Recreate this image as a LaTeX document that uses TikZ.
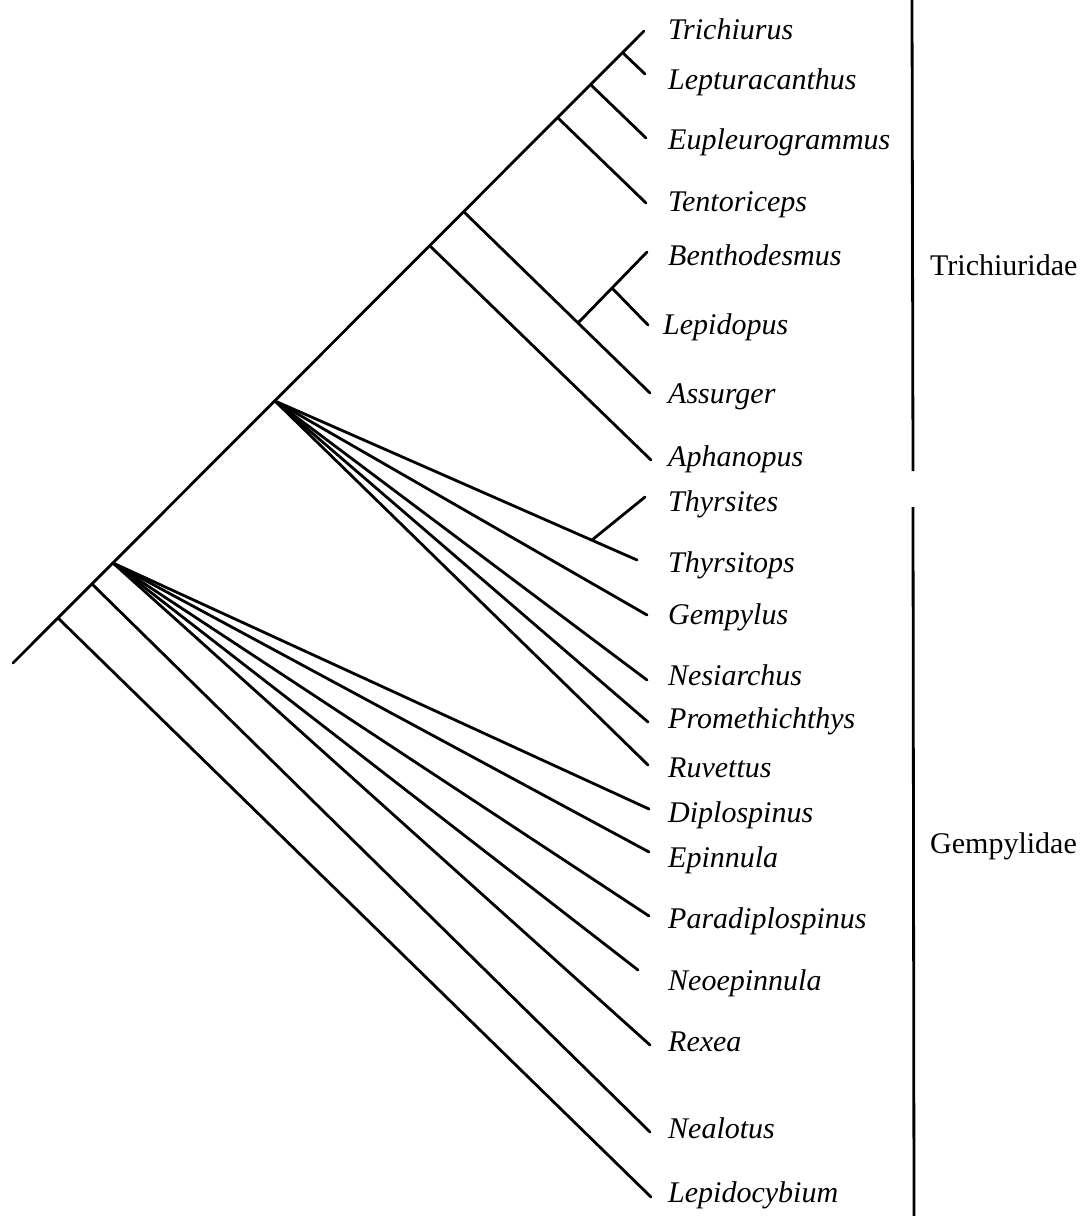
\documentclass[tikz,border=0pt]{standalone}
\usepackage{fontspec}
\setmainfont{Liberation Serif}
\begin{document}
\begin{tikzpicture}[x=1pt,y=-1pt,
  br/.style={line width=2.8pt,line cap=round},
  bar/.style={line width=2.8pt},
  lab/.style={anchor=base west,inner sep=0pt,font=\fontsize{30}{36}\selectfont\itshape},
  fam/.style={anchor=base west,inner sep=0pt,font=\fontsize{30}{36}\selectfont}]
\useasboundingbox (0,0) rectangle (1086,1216);
% internal nodes
\coordinate (root) at (13,663);
\coordinate (n1) at (58,618);
\coordinate (n2) at (92,584);
\coordinate (n3) at (113,563);
\coordinate (n4) at (275,401);
\coordinate (n5) at (430,246);
\coordinate (n6) at (464,212);
\coordinate (n7) at (578,323);
\coordinate (n8) at (612,288);
\coordinate (n9) at (558,118);
\coordinate (n10) at (591,85);
\coordinate (n11) at (623,53);
\coordinate (n12) at (592,540);
% tips
\coordinate (Trichiurus) at (644,31);
\coordinate (Lepturacanthus) at (645,74);
\coordinate (Eupleurogrammus) at (646,138);
\coordinate (Tentoriceps) at (646,203);
\coordinate (Benthodesmus) at (647,252);
\coordinate (Lepidopus) at (648,325);
\coordinate (Assurger) at (650,393);
\coordinate (Aphanopus) at (651,460);
\coordinate (Thyrsites) at (645,497);
\coordinate (Thyrsitops) at (637,560);
\coordinate (Gempylus) at (647,615);
\coordinate (Nesiarchus) at (647,680);
\coordinate (Promethichthys) at (648,722);
\coordinate (Ruvettus) at (648,765);
\coordinate (Diplospinus) at (649,809);
\coordinate (Epinnula) at (649,852);
\coordinate (Paradiplospinus) at (649,916);
\coordinate (Neoepinnula) at (638,970);
\coordinate (Rexea) at (650,1045);
\coordinate (Nealotus) at (650,1132);
\coordinate (Lepidocybium) at (651,1197);
% branches
\draw[br] (root) -- (Trichiurus);
\draw[br] (n1) -- (Lepidocybium);
\draw[br] (n2) -- (Nealotus);
\foreach \t in {Diplospinus,Epinnula,Paradiplospinus,Neoepinnula,Rexea}
  \draw[br] (n3) -- (\t);
\foreach \t in {Thyrsitops,Gempylus,Nesiarchus,Promethichthys,Ruvettus}
  \draw[br] (n4) -- (\t);
\draw[br] (n12) -- (Thyrsites);
\draw[br] (n5) -- (Aphanopus);
\draw[br] (n6) -- (Assurger);
\draw[br] (n7) -- (Benthodesmus);
\draw[br] (n8) -- (Lepidopus);
\draw[br] (n9) -- (Tentoriceps);
\draw[br] (n10) -- (Eupleurogrammus);
\draw[br] (n11) -- (Lepturacanthus);
% labels
\node[lab] (lTrichiurus) at (668,39) {Trichiurus};
\node[lab] (lLepturacanthus) at (668,89) {Lepturacanthus};
\node[lab] (lEupleurogrammus) at (668,149) {Eupleurogrammus};
\node[lab] (lTentoriceps) at (668,211) {Tentoriceps};
\node[lab] (lBenthodesmus) at (668,265) {Benthodesmus};
\node[lab] (lLepidopus) at (663,334) {Lepidopus};
\node[lab] (lAssurger) at (668,403) {Assurger};
\node[lab] (lAphanopus) at (668,466) {Aphanopus};
\node[lab] (lThyrsites) at (668,511) {Thyrsites};
\node[lab] (lThyrsitops) at (668,572) {Thyrsitops};
\node[lab] (lGempylus) at (668,624) {Gempylus};
\node[lab] (lNesiarchus) at (668,685) {Nesiarchus};
\node[lab] (lPromethichthys) at (668,728) {Promethichthys};
\node[lab] (lRuvettus) at (668,777) {Ruvettus};
\node[lab] (lDiplospinus) at (668,822) {Diplospinus};
\node[lab] (lEpinnula) at (668,867) {Epinnula};
\node[lab] (lParadiplospinus) at (668,928) {Paradiplospinus};
\node[lab] (lNeoepinnula) at (668,990) {Neoepinnula};
\node[lab] (lRexea) at (668,1051) {Rexea};
\node[lab] (lNealotus) at (668,1138) {Nealotus};
\node[lab] (lLepidocybium) at (668,1202) {Lepidocybium};
% family bars
\coordinate (t1) at (912,0);
\coordinate (t2) at (913,471);
\coordinate (g1) at (913,507);
\coordinate (g2) at (914,1216);
\draw[bar] (t1) -- (t2);
\draw[bar] (g1) -- (g2);
\node[fam] (Trichiuridae) at (930,275) {Trichiuridae};
\node[fam] (Gempylidae) at (930,853) {Gempylidae};
\end{tikzpicture}
\end{document}
